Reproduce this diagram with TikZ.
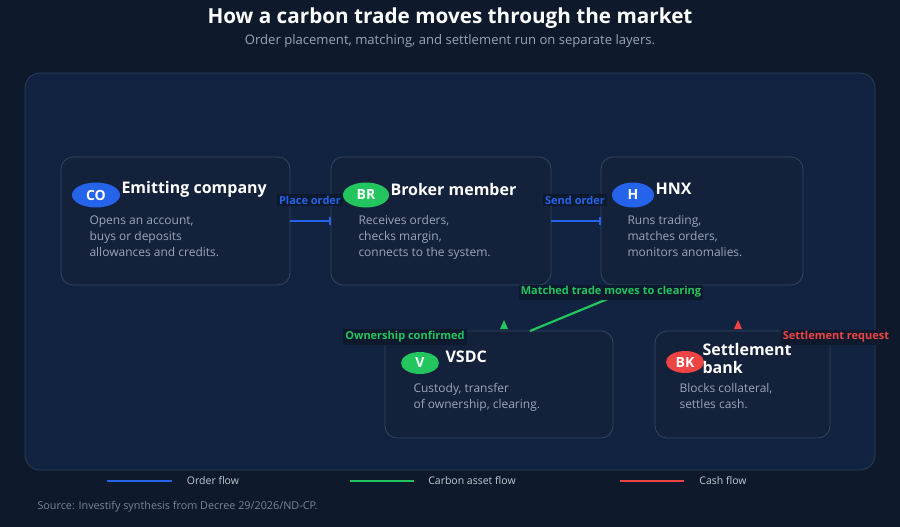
\documentclass[tikz,border=0pt]{standalone}
\usepackage{fontspec}
\setmainfont{Open Sans}
\usetikzlibrary{arrows.meta,shapes.geometric}
\definecolor{bg}{HTML}{0E1A2C}
\definecolor{panel}{HTML}{112340}
\definecolor{pborder}{HTML}{2A3D5A}
\definecolor{card}{HTML}{14213A}
\definecolor{cborder}{HTML}{34465F}
\definecolor{body}{HTML}{9AA6B8}
\definecolor{cblue}{HTML}{2563EB}
\definecolor{cgreen}{HTML}{22C55E}
\definecolor{cred}{HTML}{EF4444}
\definecolor{lblbg}{HTML}{0D1A2E}
\begin{document}
\begin{tikzpicture}[x=1pt,y=-1pt,
 card/.style={draw=cborder,fill=card,rounded corners=12pt,line width=0.8pt},
 badge/.style={ellipse,fill=#1,text=white,font=\bfseries\fontsize{14}{14}\selectfont,inner sep=0pt,minimum height=25pt},
 ttl/.style={text=white,font=\bfseries\fontsize{16}{18}\selectfont,anchor=west,align=left},
 bdy/.style={text=body,font=\fontsize{12}{16}\selectfont,anchor=north west,align=left},
 lbl/.style={fill=lblbg,font=\bfseries\fontsize{11}{12}\selectfont,inner sep=2pt,text=#1},
 lg/.style={text=body!60!white,font=\fontsize{10.5}{12}\selectfont}]
\fill[bg] (0,0) rectangle (900,527);
\node[text=white,font=\bfseries\fontsize{20.7}{22}\selectfont] (t) at (450,18) {How a carbon trade moves through the market};
\node[text=body,font=\fontsize{13.1}{14}\selectfont] (st) at (450,41) {Order placement, matching, and settlement run on separate layers.};
\draw[pborder,fill=panel,rounded corners=15pt,line width=0.8pt] (25,73) rectangle (875,470);
% cards
\draw[card] (61,157) rectangle (290,285); \coordinate (coR) at (290,221);
\draw[card] (331,157) rectangle (551,285); \coordinate (brL) at (331,221); \coordinate (brR) at (551,221);
\draw[card] (601,157) rectangle (803,285); \coordinate (hL) at (601,221);
\draw[card] (385,331) rectangle (613,438);
\draw[card] (655,331) rectangle (830,438);
\node[badge=cblue,minimum width=48pt] (co) at (96,195) {CO};
\node[ttl] (cot) at (118,189) {Emitting company};
\node[bdy] (cob) at (86,212) {Opens an account,\\buys or deposits\\allowances and credits.};
\node[badge=cgreen,minimum width=46pt] (br) at (366,195) {BR};
\node[ttl] (brt) at (387,189) {Broker member};
\node[bdy] (brb) at (355,212) {Receives orders,\\checks margin,\\connects to the system.};
\node[badge=cblue,minimum width=42pt] (h) at (633,195) {H};
\node[ttl] (ht) at (652,189) {HNX};
\node[bdy] (hb) at (624,212) {Runs trading,\\matches orders,\\monitors anomalies.};
\node[badge=cgreen,minimum width=38pt,minimum height=22pt] (v) at (420,363) {V};
\node[ttl] (vt) at (442,357) {VSDC};
\node[bdy] (vb) at (410,380) {Custody, transfer\\of ownership, clearing.};
\node[badge=cred,minimum width=38pt,minimum height=22pt] (bk) at (685,362) {BK};
\node[ttl] (bkt) at (699,358) {Settlement\\bank};
\node[bdy] (bkb) at (676,380) {Blocks collateral,\\settles cash.};
% connectors
\draw[cblue,line width=2.2pt,-{Bar[width=8pt]}] (coR) -- (brL);
\draw[cblue,line width=2.2pt,-{Bar[width=8pt]}] (brR) -- (hL);
\node[lbl=cblue] (po) at (310,200) {Place order};
\node[lbl=cblue] (so) at (575,200) {Send order};
\coordinate (m1) at (610,298); \coordinate (m2) at (530,331);
\draw[cgreen,line width=2.2pt] (m1) -- (m2);
\node[lbl=cgreen] (mt) at (611,292) {Matched trade moves to clearing};
\coordinate (ga) at (504,325); \coordinate (ra) at (738,325);
\fill[cgreen] (ga) ++(-4,4) -- ++(4,-9) -- ++(4,9) -- cycle;
\fill[cred] (ra) ++(-4,4) -- ++(4,-9) -- ++(4,9) -- cycle;
\node[lbl=cgreen] (oc) at (405,337) {Ownership confirmed};
\node[lbl=cred] (sr) at (836,337) {Settlement request};
% legend
\draw[cblue,line width=2.2pt] (107,481) -- (172,481) coordinate (l1);
\node[lg] (l1t) at (213,481) {Order flow};
\draw[cgreen,line width=2.2pt] (350,481) -- (414,481) coordinate (l2);
\node[lg] (l2t) at (472,481) {Carbon asset flow};
\draw[cred,line width=2.2pt] (620,481) -- (684,481) coordinate (l3);
\node[lg] (l3t) at (723,481) {Cash flow};
\node[text=body!80!black,font=\fontsize{10.8}{11}\selectfont,anchor=west] (src) at (34,507) {Source: Investify synthesis from Decree 29/2026/ND-CP.};
\end{tikzpicture}
\end{document}
